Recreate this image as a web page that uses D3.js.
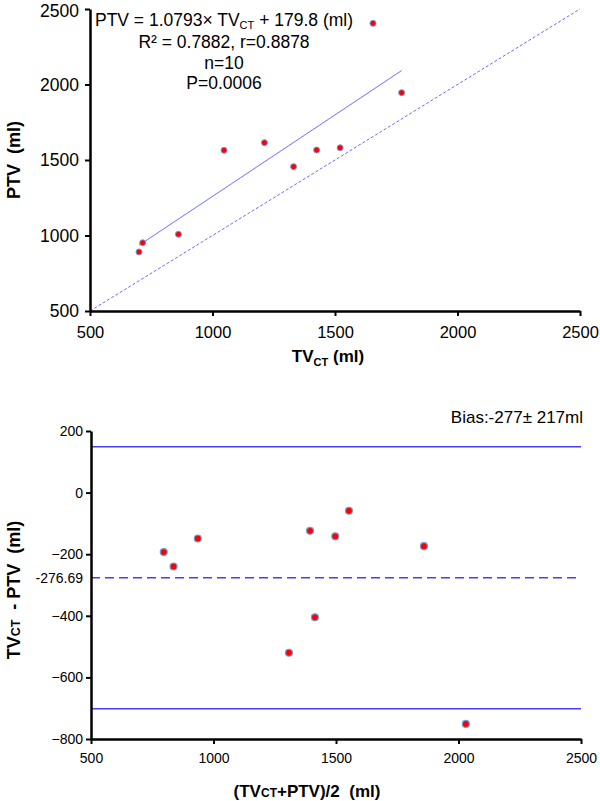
<!DOCTYPE html>
<html><head><meta charset="utf-8">
<script src="https://cdn.jsdelivr.net/npm/d3@7"></script>
<style>
html,body{margin:0;padding:0;background:#fff;}
svg{display:block;font-family:"Liberation Sans",Arial,Helvetica,sans-serif;}
</style></head>
<body><svg id="c" width="600" height="801"></svg>
<script>
// ---- data: correlation plot ----
const tvct = [700, 715, 861, 1047, 1212, 1331, 1425, 1521, 1772, 1655];
const ptv  = [891, 952, 1008, 1564, 1615, 1456, 1566, 1581, 1946, 2405];
const regSlope = 1.0793, regIntercept = 179.8;
const regRange = [700, 1772];
const identity = [500, 2500];
const topTicks = [500, 1000, 1500, 2000, 2500];
const eqLines = ["R\u00B2 = 0.7882, r=0.8878", "n=10", "P=0.0006"];

// ---- data: Bland-Altman plot ----
const baMean = [797, 837, 936, 1308, 1394, 1414, 1497, 1553, 1859, 2030];
const baDiff = [-193, -240, -149, -520, -124, -405, -142, -59, -174, -751];
const biasMean = -276.69;
const loa = [149, -702];
const baXTicks = [500, 1000, 1500, 2000, 2500];
const baYTicks = [200, 0, -200, -400, -600, -800];

const svg = d3.select("#c");
const ptFill = "#ff0000", ptStroke = "#6f9fd8";

// ===== Top chart =====
const x1 = d3.scaleLinear().domain([500, 2500]).range([90, 580]);
const y1 = d3.scaleLinear().domain([500, 2500]).range([311, 9]);
const g1 = svg.append("g");

g1.append("line")
  .attr("x1", x1(identity[0])).attr("y1", y1(identity[0]))
  .attr("x2", x1(identity[1])).attr("y2", y1(identity[1]))
  .attr("stroke", "#6a6aff").attr("stroke-width", 1).attr("stroke-dasharray", "3,2");
g1.append("line")
  .attr("x1", x1(regRange[0])).attr("y1", y1(regSlope*regRange[0]+regIntercept))
  .attr("x2", x1(regRange[1])).attr("y2", y1(regSlope*regRange[1]+regIntercept))
  .attr("stroke", "#7070ff").attr("stroke-width", 1);

const ax1 = g1.append("g").attr("transform", "translate(0,311)")
  .call(d3.axisBottom(x1).tickValues(topTicks).tickSize(5).tickSizeOuter(0).tickFormat(d3.format("d")));
const ay1 = g1.append("g").attr("transform", "translate(90,0)")
  .call(d3.axisLeft(y1).tickValues(topTicks).tickSize(5).tickSizeOuter(0).tickFormat(d3.format("d")));
[ax1, ay1].forEach(a => {
  a.select(".domain").attr("stroke", "#000").attr("stroke-width", 2.5);
  a.selectAll(".tick line").attr("stroke", "#000").attr("stroke-width", 2);
  a.selectAll("text").attr("fill", "#000").style("font-family", "'Liberation Sans',Arial,sans-serif");
});
ax1.selectAll("text").attr("font-size", 16.5).attr("y", 15).attr("dy", "0.71em");
ay1.selectAll("text").attr("font-size", 17.5).attr("x", -11).attr("dy", "0.34em");
ay1.selectAll(".tick").filter(d => d === 2500).select("text").attr("dy", "0.42em");

g1.selectAll("circle.p").data(tvct).enter().append("circle")
  .attr("cx", (d) => x1(d)).attr("cy", (d, i) => y1(ptv[i]))
  .attr("r", 3).attr("fill", ptFill).attr("stroke", ptStroke).attr("stroke-width", 1);

const eq = g1.append("text").attr("x", 224).attr("y", 26).attr("text-anchor", "middle")
  .attr("font-size", 17.5).attr("fill", "#000");
eq.append("tspan").text("PTV = 1.0793\u00D7 TV");
eq.append("tspan").attr("font-size", 11).attr("dy", 3).text("CT");
eq.append("tspan").attr("dy", -3).text(" + 179.8 (ml)");
eqLines.forEach((t, i) => {
  g1.append("text").attr("x", 224).attr("y", 48 + i*20.5).attr("text-anchor", "middle")
    .attr("font-size", 17.5).attr("fill", "#000").text(t);
});

const xt1 = g1.append("text").attr("x", 328).attr("y", 362).attr("text-anchor", "middle")
  .attr("font-size", 17).attr("font-weight", "bold").attr("xml:space", "preserve");
xt1.append("tspan").text("TV");
xt1.append("tspan").attr("font-size", 11).attr("dy", 4).text("CT");
xt1.append("tspan").attr("dy", -4).text(" (ml)");

g1.append("text").attr("transform", "translate(20,160) rotate(-90)").attr("text-anchor", "middle")
  .attr("font-size", 18).attr("font-weight", "bold").attr("xml:space", "preserve").text("PTV  (ml)");

// ===== Bottom chart =====
const x2 = d3.scaleLinear().domain([500, 2500]).range([91, 581]);
const y2 = d3.scaleLinear().domain([-800, 200]).range([739, 431]);
const g2 = svg.append("g");
const lineCol = "#4a3cf5";

loa.forEach(v => {
  g2.append("line").attr("x1", x2(500)).attr("x2", x2(2500)).attr("y1", y2(v)).attr("y2", y2(v))
    .attr("stroke", lineCol).attr("stroke-width", 1.6);
});
g2.append("line").attr("x1", x2(500)).attr("x2", x2(2500)).attr("y1", y2(biasMean)).attr("y2", y2(biasMean))
  .attr("stroke", lineCol).attr("stroke-width", 1.6).attr("stroke-dasharray", "9,5");

const ax2 = g2.append("g").attr("transform", "translate(0,739)")
  .call(d3.axisBottom(x2).tickValues(baXTicks).tickSize(5).tickSizeOuter(0).tickFormat(d3.format("d")));
const ay2 = g2.append("g").attr("transform", "translate(91,0)")
  .call(d3.axisLeft(y2).tickValues(baYTicks.concat([biasMean])).tickSize(5).tickSizeOuter(0)
    .tickFormat(d => d === biasMean ? "-276.69" : d3.format("d")(d)));
[ax2, ay2].forEach(a => {
  a.select(".domain").attr("stroke", "#000").attr("stroke-width", 2.5);
  a.selectAll(".tick line").attr("stroke", "#000").attr("stroke-width", 2);
  a.selectAll("text").attr("fill", "#000").attr("font-size", 14).style("font-family", "'Liberation Sans',Arial,sans-serif");
});
ay2.selectAll(".tick").filter(d => d === biasMean).select("line").remove();
ax2.selectAll("text").attr("y", 14).attr("dy", "0.71em");
ay2.selectAll("text").attr("x", -8);

g2.selectAll("circle.b").data(baMean).enter().append("circle")
  .attr("cx", d => x2(d)).attr("cy", (d, i) => y2(baDiff[i]))
  .attr("r", 3.5).attr("fill", ptFill).attr("stroke", ptStroke).attr("stroke-width", 1.2);

g2.append("text").attr("x", 583).attr("y", 423).attr("text-anchor", "end")
  .attr("font-size", 17).attr("fill", "#000").text("Bias:-277\u00B1 217ml");

const xt2 = g2.append("text").attr("x", 307).attr("y", 797).attr("text-anchor", "middle")
  .attr("font-size", 17).attr("font-weight", "bold").attr("xml:space", "preserve");
xt2.append("tspan").text("(TV");
xt2.append("tspan").attr("font-size", 12).text("CT");
xt2.append("tspan").text("+PTV)/2  (ml)");

const yt2 = g2.append("text").attr("transform", "translate(20,590) rotate(-90)").attr("text-anchor", "middle")
  .attr("font-size", 18).attr("font-weight", "bold").attr("xml:space", "preserve");
yt2.append("tspan").text("TV");
yt2.append("tspan").attr("font-size", 12.5).text("CT");
yt2.append("tspan").text("  - PTV  (ml)");
</script></body></html>
